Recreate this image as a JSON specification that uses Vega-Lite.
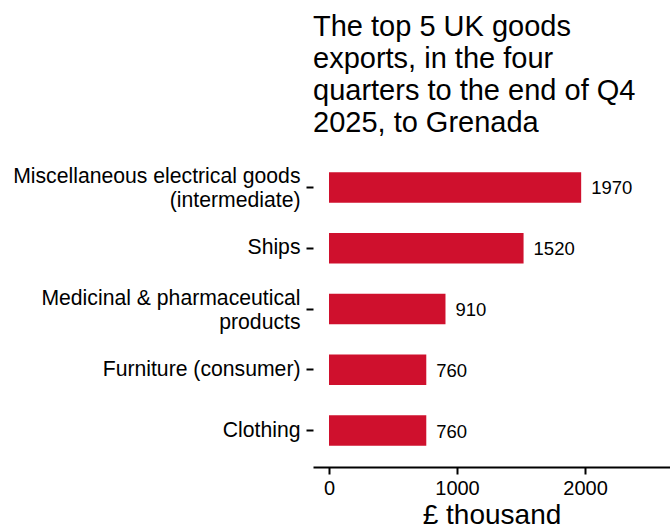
{
  "$schema": "https://vega.github.io/schema/vega-lite/v6.json",
  "autosize": {"type": "none"},
  "padding": {"left": 313, "top": 151, "right": 0, "bottom": 62},
  "width": 357,
  "height": 316,
  "background": "white",
  "config": {
    "font": "Liberation Sans",
    "view": {"stroke": null}
  },
  "title": {
    "text": ["The top 5 UK goods", "exports, in the four", "quarters to the end of Q4", "2025, to Grenada"],
    "anchor": "start",
    "frame": "group",
    "fontSize": 29,
    "fontWeight": "normal",
    "lineHeight": 32,
    "color": "black",
    "offset": 13
  },
  "data": {
    "values": [
      {"product": "Miscellaneous electrical goods (intermediate)", "value": 1970},
      {"product": "Ships", "value": 1520},
      {"product": "Medicinal & pharmaceutical products", "value": 910},
      {"product": "Furniture (consumer)", "value": 760},
      {"product": "Clothing", "value": 760}
    ]
  },
  "encoding": {
    "y": {
      "field": "product",
      "type": "nominal",
      "sort": ["Miscellaneous electrical goods (intermediate)", "Ships", "Medicinal & pharmaceutical products", "Furniture (consumer)", "Clothing"],
      "scale": {"paddingInner": 0.5, "paddingOuter": 0.35},
      "axis": {
        "title": null,
        "domain": false,
        "ticks": true,
        "tickSize": 7,
        "tickWidth": 2,
        "tickColor": "black",
        "labelPadding": 6,
        "labelFontSize": 21.2,
        "labelColor": "black",
        "labelLineHeight": 23.5,
        "labelLimit": 400,
        "labelOffset": {"condition": {"test": "indexof(datum.value, '(intermediate)') >= 0 || indexof(datum.value, 'Medicinal') >= 0", "value": -10}, "value": 0},
        "labelExpr": "datum.label == 'Miscellaneous electrical goods (intermediate)' ? ['Miscellaneous electrical goods', '(intermediate)'] : datum.label == 'Medicinal & pharmaceutical products' ? ['Medicinal & pharmaceutical', 'products'] : datum.label"
      }
    },
    "x": {
      "field": "value",
      "type": "quantitative",
      "scale": {"domain": [-125, 2664], "nice": false, "zero": false},
      "axis": {
        "title": "£ thousand",
        "titleFontSize": 28,
        "titleFontWeight": "normal",
        "titleColor": "black",
        "titlePadding": 3,
        "values": [0, 1000, 2000],
        "format": "d",
        "grid": false,
        "domain": true,
        "domainColor": "black",
        "domainWidth": 2,
        "tickColor": "black",
        "tickWidth": 2,
        "tickSize": 7,
        "labelFontSize": 20,
        "labelColor": "black",
        "labelPadding": 4,
        "labelFlush": false
      }
    }
  },
  "layer": [
    {
      "mark": {"type": "bar", "color": "#CF102D"},
      "encoding": {"x2": {"datum": 0}}
    },
    {
      "mark": {"type": "text", "align": "left", "dx": 10, "dy": 1, "fontSize": 18.5, "color": "black", "baseline": "middle"},
      "encoding": {"text": {"field": "value", "type": "quantitative", "format": "d"}}
    }
  ]
}
